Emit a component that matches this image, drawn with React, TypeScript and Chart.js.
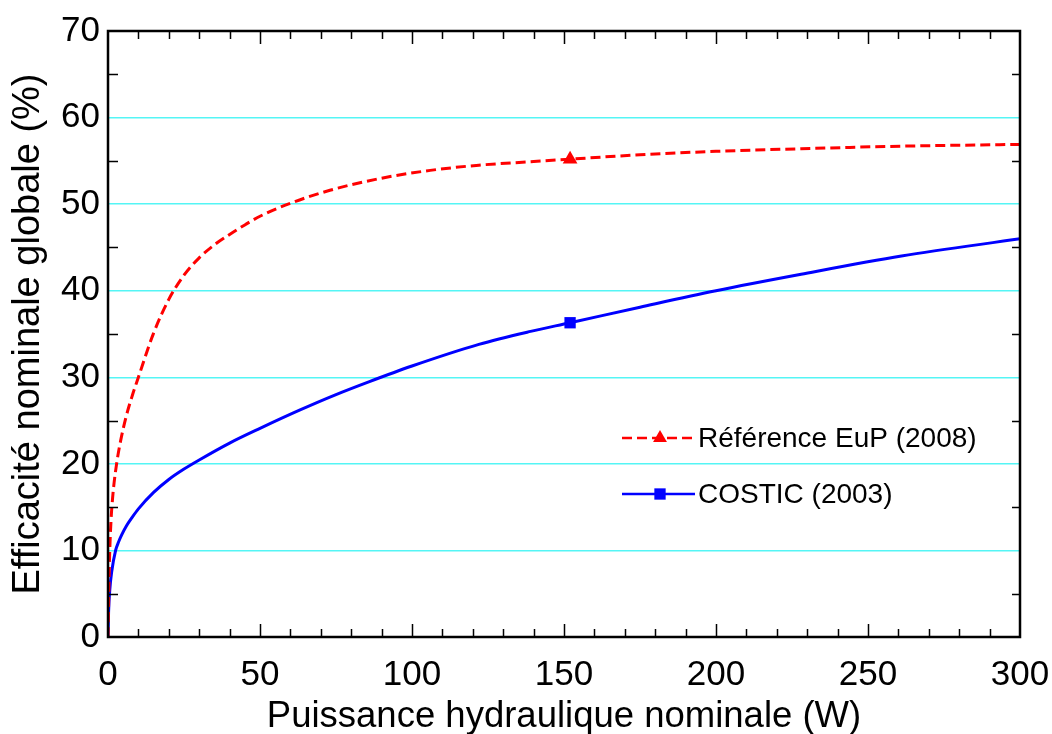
import React, { useEffect, useRef } from 'react';
import { Chart, registerables } from 'chart.js';

Chart.register(...registerables);

// ---- Data ----
const seriesNames = ['Référence EuP (2008)', 'COSTIC (2003)'];

const eupPower = [0, 0.5, 1, 1.5, 2, 3, 4, 6, 8, 10, 15, 20, 25, 30, 35, 40, 45, 50, 60, 73, 90, 106, 122, 139, 152, 175, 200, 228, 261, 300];
const eupEfficiency = [0, 9, 13.5, 16, 17.8, 20.4, 22.4, 25.5, 27.9, 30, 35.1, 39, 41.8, 43.8, 45.3, 46.5, 47.6, 48.6, 50.1, 51.6, 53, 53.9, 54.5, 54.9, 55.2, 55.7, 56.1, 56.4, 56.7, 56.9];

const costicPower = [0, 0.2, 0.6, 1.2, 2.5, 3.5, 4.5, 6, 8, 10, 15, 20, 25, 30, 40, 50, 63, 75, 86, 100, 122, 139, 152, 175, 200, 228, 261, 300];
const costicEfficiency = [0, 3, 5.5, 7.5, 10, 11, 11.8, 12.8, 13.85, 14.8, 16.7, 18.2, 19.4, 20.45, 22.4, 24.1, 26.2, 28, 29.5, 31.3, 33.8, 35.3, 36.3, 38.1, 40, 41.9, 44, 46];

const markerPower = 152;

const xTitle = 'Puissance hydraulique nominale (W)';
const yTitle = 'Efficacité nominale globale (%)';
const xMin = 0, xMax = 300, xMajor = 50, xMinor = 10;
const yMin = 0, yMax = 70, yMajor = 10, yMinor = 5;

const RED = '#ff0000';
const BLUE = '#0000ff';
const FONT = '"Liberation Sans", Arial, Helvetica, sans-serif';

function drawMarker(ctx: CanvasRenderingContext2D, style: string, x: number, y: number, r: number, color: string) {
  ctx.save();
  ctx.fillStyle = color;
  ctx.beginPath();
  if (style === 'triangle') {
    ctx.moveTo(x, y - r);
    ctx.lineTo(x + r * Math.sin(Math.PI / 3), y + r / 2);
    ctx.lineTo(x - r * Math.sin(Math.PI / 3), y + r / 2);
    ctx.closePath();
  } else {
    const s = r * Math.SQRT1_2;
    ctx.rect(x - s, y - s, 2 * s, 2 * s);
  }
  ctx.fill();
  ctx.restore();
}

const framePlugin = {
  id: 'frameTicksLegend',
  afterDatasetsDraw(chart: any) {
    const { ctx, chartArea } = chart;
    const { left, right, top, bottom } = chartArea;
    const xs = chart.scales.x;
    const ys = chart.scales.y;
    ctx.save();
    ctx.strokeStyle = '#000';
    // inner ticks
    ctx.lineWidth = 1.5;
    ctx.beginPath();
    for (let v = xMin + xMinor; v < xMax; v += xMinor) {
      const px = Math.round(xs.getPixelForValue(v)) + 0.5;
      const len = v % xMajor === 0 ? 13 : 8;
      ctx.moveTo(px, bottom);
      ctx.lineTo(px, bottom - len);
      ctx.moveTo(px, top);
      ctx.lineTo(px, top + len);
    }
    for (let v = yMin + yMinor; v < yMax; v += yMajor) {
      const py = Math.round(ys.getPixelForValue(v)) + 0.5;
      ctx.moveTo(left, py);
      ctx.lineTo(left + 10, py);
      ctx.moveTo(right, py);
      ctx.lineTo(right - 8, py);
    }
    ctx.stroke();
    // frame
    ctx.lineWidth = 2.5;
    ctx.strokeRect(left, top, right - left, bottom - top);

    // legend
    const rows = [
      { name: seriesNames[0], color: RED, dash: [10, 5], marker: 'triangle', y: top + 407 },
      { name: seriesNames[1], color: BLUE, dash: [], marker: 'rect', y: top + 463 },
    ];
    const lx0 = left + 514;
    const lx1 = left + 587;
    const mx = left + 552;
    ctx.font = `28px ${FONT}`;
    ctx.textBaseline = 'middle';
    ctx.textAlign = 'left';
    rows.forEach((r) => {
      ctx.save();
      ctx.strokeStyle = r.color;
      ctx.lineWidth = 2.5;
      ctx.setLineDash(r.dash);
      ctx.beginPath();
      ctx.moveTo(lx0, r.y);
      ctx.lineTo(lx1, r.y);
      ctx.stroke();
      ctx.restore();
      drawMarker(ctx, r.marker, mx, r.y, 8, r.color);
      ctx.fillStyle = '#000';
      ctx.fillText(r.name, left + 590, r.y + 1);
    });
    ctx.restore();
  },
};

export default function App() {
  const canvasRef = useRef<HTMLCanvasElement | null>(null);

  useEffect(() => {
    const canvas = canvasRef.current;
    if (!canvas) return;
    const toPoints = (xs: number[], ys: number[]) => xs.map((x, i) => ({ x, y: ys[i] }));
    const chart = new Chart(canvas, {
      type: 'line',
      data: {
        datasets: [
          {
            label: seriesNames[0],
            data: toPoints(eupPower, eupEfficiency),
            borderColor: RED,
            backgroundColor: RED,
            borderWidth: 3,
            borderDash: [10, 5],
            cubicInterpolationMode: 'monotone',
            pointStyle: 'triangle',
            pointRadius: (c: any) => (c.raw && c.raw.x === markerPower ? 8.5 : 0),
            pointBorderWidth: 0,
            fill: false,
          },
          {
            label: seriesNames[1],
            data: toPoints(costicPower, costicEfficiency),
            borderColor: BLUE,
            backgroundColor: BLUE,
            borderWidth: 3,
            cubicInterpolationMode: 'monotone',
            pointStyle: 'rect',
            pointRadius: (c: any) => (c.raw && c.raw.x === markerPower ? 8 : 0),
            pointBorderWidth: 0,
            fill: false,
          },
        ],
      },
      options: {
        responsive: false,
        animation: false,
        layout: { padding: { top: 31, right: 32, left: 0, bottom: 0 } },
        plugins: {
          legend: { display: false },
          tooltip: { enabled: false },
        },
        scales: {
          x: {
            type: 'linear',
            min: xMin,
            max: xMax,
            border: { display: false },
            grid: { display: false, drawTicks: false },
            ticks: {
              stepSize: xMajor,
              padding: 17,
              color: '#000',
              font: { family: FONT, size: 35 },
              maxRotation: 0,
              autoSkip: false,
            },
            title: {
              display: true,
              text: xTitle,
              color: '#000',
              font: { family: FONT, size: 36.5, lineHeight: 0.94 },
              padding: 0,
            },
            afterFit: (s: any) => {
              s.height = 97;
              s.paddingLeft = 0;
              s.paddingRight = 0;
            },
          },
          y: {
            type: 'linear',
            min: yMin,
            max: yMax,
            border: { display: false },
            grid: {
              drawTicks: false,
              lineWidth: 1.5,
              color: (c: any) => {
                const v = c.tick ? c.tick.value : 0;
                return v === yMin || v === yMax ? 'rgba(0,0,0,0)' : '#55f5f5';
              },
            },
            ticks: {
              stepSize: yMajor,
              padding: 8,
              color: '#000',
              font: { family: FONT, size: 35 },
            },
            title: {
              display: true,
              text: yTitle,
              color: '#000',
              font: { family: FONT, size: 38, lineHeight: 1.2 },
              padding: { top: 6, bottom: 0 },
            },
            afterFit: (s: any) => {
              s.width = 108;
              s.paddingTop = 0;
              s.paddingBottom = 0;
            },
          },
        },
      },
      plugins: [framePlugin],
    } as any);
    return () => chart.destroy();
  }, []);

  return (
    <div style={{ position: 'fixed', left: 0, top: 0, width: 1052, height: 734, background: '#fff' }}>
      <canvas ref={canvasRef} width={1052} height={734} style={{ display: 'block' }} />
    </div>
  );
}
